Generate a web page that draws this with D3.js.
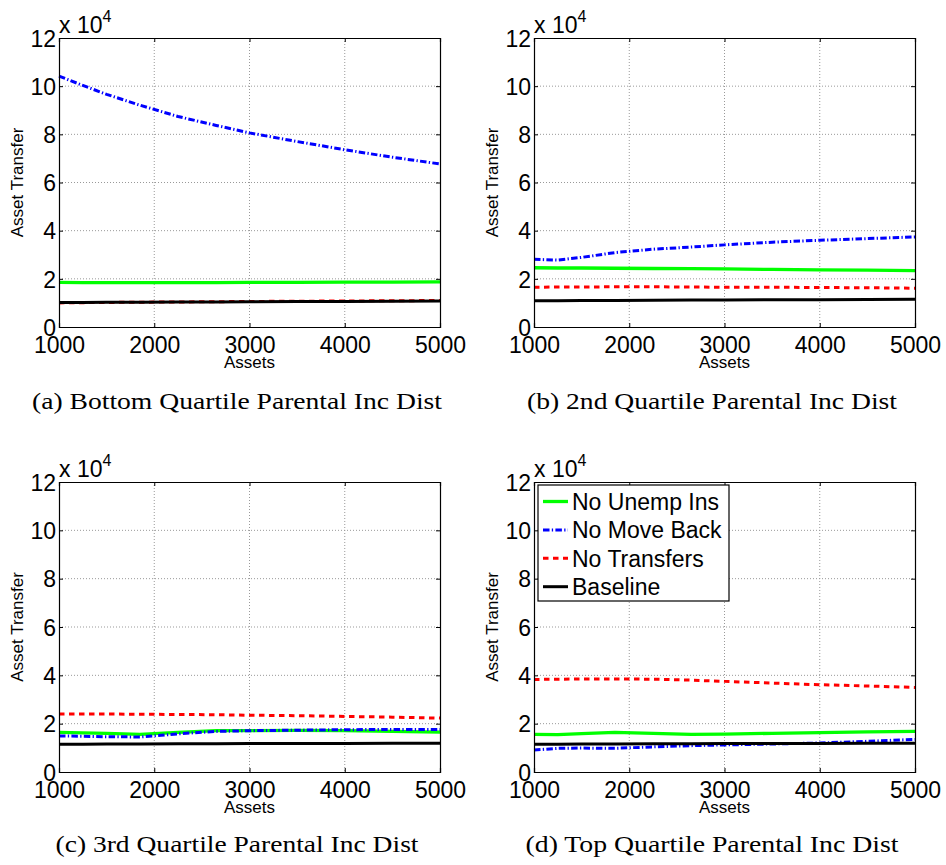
<!DOCTYPE html>
<html><head><meta charset="utf-8">
<script src="https://cdn.jsdelivr.net/npm/d3@7"></script>
<style>html,body{margin:0;padding:0;background:#fff;}</style>
</head><body><svg id="fig" width="946" height="865"></svg>
<script>
// ---- data (values in units of 10^4) ----
const assets = [1000,1250,1500,1850,2250,2650,3000,3500,4000,4500,5000];
const xTicks = [1000,2000,3000,4000,5000];
const yTicks = [0,2,4,6,8,10,12];
const seriesNames = ["No Unemp Ins","No Move Back","No Transfers","Baseline"];
const captions = ["(a) Bottom Quartile Parental Inc Dist","(b) 2nd Quartile Parental Inc Dist",
                  "(c) 3rd Quartile Parental Inc Dist","(d) Top Quartile Parental Inc Dist"];

const noUnempA = [1.85,1.84,1.84,1.84,1.84,1.84,1.85,1.85,1.86,1.86,1.87];
const noMoveA  = [10.42,10.03,9.66,9.21,8.74,8.37,8.06,7.70,7.36,7.05,6.77];
const noTransA = [1.00,1.01,1.02,1.03,1.04,1.05,1.06,1.07,1.08,1.09,1.10];
const baseA    = [1.02,1.02,1.03,1.03,1.04,1.04,1.05,1.06,1.06,1.07,1.08];

const noUnempB = [2.46,2.45,2.45,2.44,2.43,2.42,2.41,2.39,2.37,2.36,2.34];
const noMoveB  = [2.81,2.78,2.89,3.09,3.23,3.32,3.41,3.52,3.60,3.67,3.74];
const noTransB = [1.65,1.66,1.66,1.67,1.67,1.66,1.65,1.65,1.64,1.63,1.61];
const baseB    = [1.09,1.09,1.10,1.10,1.11,1.12,1.12,1.13,1.13,1.14,1.15];

const noUnempC = [1.64,1.62,1.60,1.56,1.64,1.71,1.71,1.72,1.71,1.68,1.65];
const noMoveC  = [1.49,1.48,1.46,1.45,1.58,1.68,1.71,1.73,1.75,1.76,1.76];
const noTransC = [2.40,2.40,2.40,2.39,2.38,2.37,2.35,2.33,2.30,2.27,2.23];
const baseC    = [1.15,1.15,1.16,1.16,1.17,1.17,1.18,1.18,1.18,1.19,1.19];

const noUnempD = [1.56,1.55,1.59,1.64,1.60,1.56,1.57,1.60,1.63,1.66,1.68];
const noMoveD  = [0.91,0.98,0.99,0.98,1.04,1.09,1.12,1.16,1.20,1.27,1.35];
const noTransD = [3.83,3.84,3.85,3.85,3.84,3.80,3.75,3.68,3.61,3.56,3.50];
const baseD    = [1.15,1.15,1.16,1.16,1.17,1.17,1.18,1.18,1.18,1.19,1.19];

const panelSeries = [
  [noUnempA,noMoveA,noTransA,baseA],
  [noUnempB,noMoveB,noTransB,baseB],
  [noUnempC,noMoveC,noTransC,baseC],
  [noUnempD,noMoveD,noTransD,baseD]
];

// ---- styles ----
const styles = [
  {color:"#00ff00", width:3.3, dash:null},
  {color:"#0000ff", width:3, dash:"6.5,2.3,1.3,2.3"},
  {color:"#ff0000", width:3, dash:"5.5,4.5"},
  {color:"#000000", width:3, dash:null}
];

const panels = [
  {left:59,  top:38,  w:381, h:289, capX:237, capY:409, capW:410},
  {left:534, top:38,  w:381, h:289, capX:712, capY:409, capW:370},
  {left:59,  top:482, w:381, h:290, capX:237, capY:852, capW:363},
  {left:534, top:482, w:381, h:290, capX:712, capY:852, capW:373}
];

const svg = d3.select("#fig");
const sans = "'Liberation Sans', Arial, Helvetica, sans-serif";
const serif = "'Liberation Serif', 'Times New Roman', serif";

panels.forEach((p, pi) => {
  const x = d3.scaleLinear().domain([1000,5000]).range([0, p.w]);
  const y = d3.scaleLinear().domain([0,12]).range([p.h, 0]);
  const g = svg.append("g").attr("transform", `translate(${p.left},${p.top})`);

  // grid
  const grid = g.append("g");
  grid.selectAll("line.gx").data(xTicks.slice(1,-1)).join("line")
    .attr("x1", d => x(d)).attr("x2", d => x(d)).attr("y1", 0).attr("y2", p.h)
    .attr("stroke", "#999").attr("stroke-width", 1).attr("stroke-dasharray", "1,2");
  grid.selectAll("line.gy").data(yTicks.slice(1,-1)).join("line")
    .attr("y1", d => y(d)).attr("y2", d => y(d)).attr("x1", 0).attr("x2", p.w)
    .attr("stroke", "#999").attr("stroke-width", 1).attr("stroke-dasharray", "1,2");

  // series lines
  const line = d3.line().x((d, i) => x(assets[i])).y(d => y(d));
  panelSeries[pi].forEach((vals, si) => {
    const s = styles[si];
    g.append("path").datum(vals).attr("d", line)
      .attr("fill", "none").attr("stroke", s.color).attr("stroke-width", s.width)
      .attr("stroke-dasharray", s.dash).attr("stroke-linejoin", "round");
  });

  // axes (inner ticks, mirrored)
  const tl = 4;
  const axB = g.append("g").attr("transform", `translate(0,${p.h})`)
    .call(d3.axisBottom(x).tickValues(xTicks).tickSize(-tl).tickPadding(12).tickFormat(d3.format("d")));
  const axT = g.append("g")
    .call(d3.axisTop(x).tickValues(xTicks).tickSize(-tl).tickFormat(""));
  const axL = g.append("g")
    .call(d3.axisLeft(y).tickValues(yTicks).tickSize(-tl).tickPadding(7).tickFormat(d3.format("d")));
  const axR = g.append("g").attr("transform", `translate(${p.w},0)`)
    .call(d3.axisRight(y).tickValues(yTicks).tickSize(-tl).tickFormat(""));
  [axB, axT, axL, axR].forEach(a => {
    a.select(".domain").attr("stroke", "#000").attr("stroke-width", 1.2);
    a.selectAll(".tick line").attr("stroke", "#000").attr("stroke-width", 1);
    a.selectAll("text").attr("font-family", sans).attr("font-size", 23).attr("fill", "#000");
  });
  axB.selectAll(".tick text").attr("dy", null).attr("y", 26).attr("dominant-baseline", "auto");
  axL.selectAll(".tick text").attr("dy", "0.36em").attr("x", -3);

  // exponent label
  const ex = g.append("text").attr("x", 0).attr("y", -5)
    .attr("font-family", sans).attr("font-size", 23).attr("fill", "#000");
  ex.append("tspan").text("x 10");
  ex.append("tspan").attr("font-size", 16).attr("dy", -11).text("4");

  // axis labels
  g.append("text").attr("x", p.w/2).attr("y", p.h + 41)
    .attr("text-anchor", "middle").attr("font-family", sans).attr("font-size", 17).text("Assets");
  g.append("text").attr("transform", `translate(-36,${p.h/2}) rotate(-90)`)
    .attr("text-anchor", "middle").attr("font-family", sans).attr("font-size", 17).text("Asset Transfer");

  // caption
  svg.append("text").attr("x", p.capX).attr("y", p.capY).attr("text-anchor", "middle")
    .attr("font-family", serif).attr("font-size", 24).attr("fill", "#000")
    .attr("textLength", p.capW).attr("lengthAdjust", "spacingAndGlyphs").text(captions[pi]);

  // legend in panel d
  if (pi === 3) {
    const lg = g.append("g").attr("transform", `translate(${538 - p.left},${485 - p.top})`);
    lg.append("rect").attr("x", 0).attr("y", 0).attr("width", 191).attr("height", 116)
      .attr("fill", "#fff").attr("stroke", "#000").attr("stroke-width", 1.2);
    seriesNames.forEach((name, si) => {
      const cy = 16.5 + si * 28.4;
      const s = styles[si];
      lg.append("line").attr("x1", 5).attr("x2", 30).attr("y1", cy).attr("y2", cy)
        .attr("stroke", s.color).attr("stroke-width", s.width).attr("stroke-dasharray", s.dash);
      lg.append("text").attr("x", 34).attr("y", cy + 8.5)
        .attr("font-family", sans).attr("font-size", 23).attr("fill", "#000").text(name);
    });
  }
});
</script></body></html>
